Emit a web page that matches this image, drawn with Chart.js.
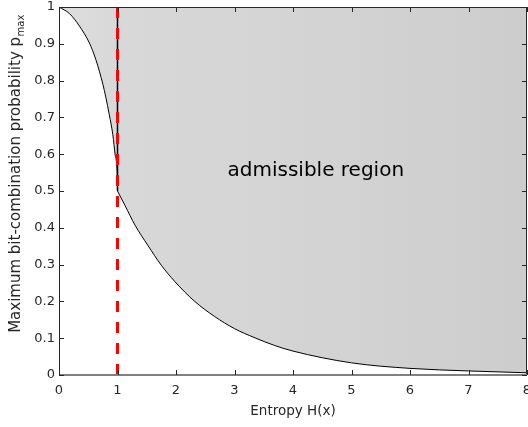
<!DOCTYPE html>
<html lang="en">
<head>
    <meta charset="UTF-8">
    <title>Admissible region</title>
    <script src="https://cdn.jsdelivr.net/npm/chart.js"></script>
</head>
<body>
    <div class="caixa">
        <canvas id="grafico"></canvas>
    </div>
</body>
</html>

<script>
    // lower boundary of the admissible region, split at H = 1
    var entropiaEsq = [0, 0.18, 0.35, 0.52, 0.63, 0.75, 0.80, 0.86, 0.92, 0.96, 0.995, 1.0];
    var pMaxEsq = [1, 0.982, 0.948, 0.902, 0.857, 0.79, 0.755, 0.707, 0.653, 0.598, 0.544, 0.5];
    var entropiaDir = [1.0, 1.13, 1.30, 1.52, 1.75, 1.98, 2.32, 2.66, 3.0, 3.35, 3.69, 4.0, 5.0, 6.0, 7.0, 8.0];
    var pMaxDir = [0.5, 0.46, 0.407, 0.352, 0.298, 0.254, 0.2, 0.159, 0.126, 0.101, 0.08, 0.065, 0.033, 0.018, 0.011, 0.006];
    // vertical marker at H = 1 bit
    var limiteH = [1, 1];
    var limiteVermelho = [0, 1];
    var limitePreto = [0.5, 1];
    var ticksX = [0, 1, 2, 3, 4, 5, 6, 7, 8];
    var ticksY = [0, 0.1, 0.2, 0.3, 0.4, 0.5, 0.6, 0.7, 0.8, 0.9, 1];
    var rotulo = 'admissible region';
    var posRotulo = [4.39, 0.542];

    var fonte = '"DejaVu Sans", sans-serif';

    function pontos(xs, ys){
        var lista = [];
        for(var i = 0; i < xs.length; i++){
            lista.push({x: xs[i], y: ys[i]});
        }
        return lista;
    }

    function corRegiao(context){
        var area = context.chart.chartArea;
        if(!area){
            return '#d6d6d6';
        }
        var g = context.chart.ctx.createLinearGradient(area.left, 0, area.right, 0);
        g.addColorStop(0, '#dedede');
        g.addColorStop(0.125, '#d8d8d8');
        g.addColorStop(0.5, '#d4d4d4');
        g.addColorStop(1, '#cdcdcd');
        return g;
    }

    function regiao(xs, ys){
        return {
            data: pontos(xs, ys),
            borderColor: '#000000',
            borderWidth: 1,
            backgroundColor: corRegiao,
            fill: 'end',
            pointRadius: 0,
            cubicInterpolationMode: 'monotone',
            order: 3
        };
    }

    // box, inward ticks, y title with subscript and the text label
    var moldura = {
        id: 'moldura',
        afterDraw(chart){
            var ctx = chart.ctx;
            var a = chart.chartArea;
            var sx = chart.scales.x;
            var sy = chart.scales.y;
            ctx.save();
            ctx.strokeStyle = '#262626';
            ctx.lineWidth = 1;
            ctx.beginPath();
            ctx.moveTo(a.left + 0.5, a.bottom);
            ctx.lineTo(a.left + 0.5, a.top + 0.5);
            ctx.lineTo(a.right - 0.5, a.top + 0.5);
            ctx.lineTo(a.right - 0.5, a.bottom);
            ctx.stroke();
            ctx.strokeStyle = '#808080';
            ctx.lineWidth = 2;
            ctx.beginPath();
            ctx.moveTo(a.left, a.bottom);
            ctx.lineTo(a.right, a.bottom);
            ctx.stroke();

            ctx.strokeStyle = '#262626';
            ctx.lineWidth = 1;
            ctx.beginPath();
            ticksX.forEach(function(v){
                var px = Math.round(sx.getPixelForValue(v)) + 0.5;
                ctx.moveTo(px, a.bottom);
                ctx.lineTo(px, a.bottom - 5);
                ctx.moveTo(px, a.top);
                ctx.lineTo(px, a.top + 5);
            });
            ticksY.forEach(function(v){
                var py = Math.round(sy.getPixelForValue(v)) + 0.5;
                ctx.moveTo(a.left, py);
                ctx.lineTo(a.left + 5, py);
                ctx.moveTo(a.right, py);
                ctx.lineTo(a.right - 5, py);
            });
            ctx.stroke();

            ctx.fillStyle = '#000000';
            ctx.font = '20px ' + fonte;
            ctx.textAlign = 'center';
            ctx.textBaseline = 'alphabetic';
            ctx.fillText(rotulo, sx.getPixelForValue(posRotulo[0]), sy.getPixelForValue(posRotulo[1]));

            ctx.fillStyle = '#262626';
            ctx.textAlign = 'left';
            var principal = 'Maximum bit-combination probability p';
            ctx.font = '15px ' + fonte;
            var w1 = ctx.measureText(principal).width;
            ctx.font = '10px ' + fonte;
            var w2 = ctx.measureText('max').width;
            ctx.translate(19.5, 174);
            ctx.rotate(-Math.PI / 2);
            var inicio = -(w1 + w2) / 2;
            ctx.font = '15px ' + fonte;
            ctx.fillText(principal, inicio, 0);
            ctx.font = '10px ' + fonte;
            ctx.fillText('max', inicio + w1 + 0.5, 4.5);
            ctx.restore();
        }
    };

    var config = {
        type: 'line',
        data: {
            datasets: [regiao(entropiaEsq, pMaxEsq), regiao(entropiaDir, pMaxDir),
            {
                data: pontos(limiteH, limitePreto),
                borderColor: '#000000',
                borderWidth: 1.5,
                pointRadius: 0,
                fill: false,
                order: 2
            },
            {
                data: pontos(limiteH, limiteVermelho),
                borderColor: '#ff0000',
                borderWidth: 3,
                borderDash: [11, 10],
                borderCapStyle: 'butt',
                pointRadius: 0,
                fill: false,
                order: 1
            }]
        },
        options: {
            responsive: true,
            maintainAspectRatio: false,
            animation: false,
            layout: {
                padding: {left: 0, right: 4, top: 7, bottom: 0}
            },
            plugins: {
                legend: {display: false},
                tooltip: {enabled: false}
            },
            scales: {
                x: {
                    type: 'linear',
                    min: 0,
                    max: 8,
                    afterFit: function(s){
                        s.height = 52;
                        s.paddingLeft = 0;
                        s.paddingRight = 0;
                    },
                    afterBuildTicks: function(s){ s.ticks = ticksX.map(function(v){ return {value: v}; }); },
                    grid: {display: false, drawTicks: false},
                    border: {display: false},
                    ticks: {
                        padding: 9,
                        color: '#262626',
                        maxRotation: 0,
                        font: {family: fonte, size: 13, lineHeight: 1}
                    },
                    title: {
                        display: true,
                        text: 'Entropy H(x)',
                        color: '#262626',
                        padding: {top: 0, bottom: 7},
                        font: {family: fonte, size: 13.5}
                    }
                },
                y: {
                    type: 'linear',
                    min: 0,
                    max: 1,
                    afterFit: function(s){
                        s.width = 59;
                        s.paddingTop = 0;
                        s.paddingBottom = 0;
                    },
                    afterBuildTicks: function(s){ s.ticks = ticksY.map(function(v){ return {value: v}; }); },
                    grid: {display: false, drawTicks: false},
                    border: {display: false},
                    ticks: {
                        padding: 4,
                        color: '#262626',
                        font: {family: fonte, size: 13, lineHeight: 1},
                        callback: function(v){ return String(Math.round(v * 10) / 10); }
                    }
                }
            }
        },
        plugins: [moldura]
    };

    var grafico = new Chart(document.getElementById('grafico'), config);
</script>
<style>
    html, body{
        margin: 0;
        padding: 0;
        overflow: hidden;
        background-color: white;
    }

    .caixa{
        width: 531px;
        height: 427px;
        position: relative;
    }
</style>
